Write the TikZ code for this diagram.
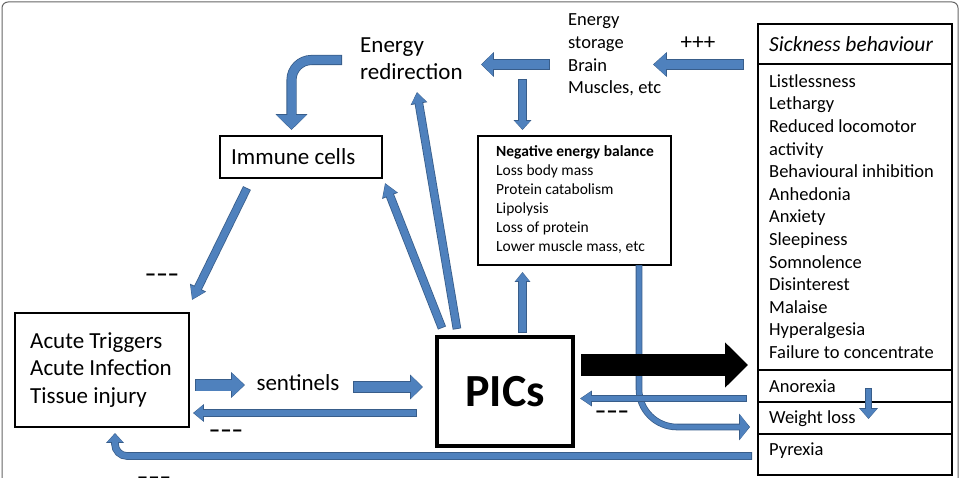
\documentclass[tikz,border=0pt]{standalone}
\usepackage{fontspec}
\setmainfont{Carlito}
\usetikzlibrary{arrows.meta,calc}
\definecolor{bfill}{HTML}{4F81BD}
\definecolor{bdark}{HTML}{385D8A}
\newcommand\ftbig{\fontsize{23}{27.5}\selectfont}
\newcommand\ftmid{\fontsize{18.5}{22.6}\selectfont}
\newcommand\ftsmall{\fontsize{15.5}{19}\selectfont}
\newcommand\fttitle{\fontsize{21.5}{25}\selectfont\itshape}
\newcommand\ftpics{\fontsize{46}{50}\selectfont\bfseries}
\tikzset{
  box/.style={draw=black, rectangle, inner sep=0pt},
  txt/.style={anchor=west, align=left, inner sep=0pt},
  sign/.style={anchor=base, inner sep=0pt, font=\ftbig\bfseries},
  barr/.code n args={3}{%
    \pgfmathsetmacro\bw{#1+1.6}%
    \pgfmathsetmacro\bW{#2+2}%
    \pgfmathsetmacro\bH{#3+1.8}%
    \edef\barrtmp{\noexpand\tikzset{preaction={draw=bdark,line width=\bw pt,shorten >=0pt,shorten <=0pt,-{Triangle[width=\bW pt,length=\bH pt]}}}}%
    \barrtmp
    \tikzset{draw=bfill,line width=#1pt,-{Triangle[width=#2pt,length=#3pt]},shorten >=0.9pt,shorten <=0.8pt}%
  }
}
\begin{document}
\begin{tikzpicture}[x=1pt,y=-1pt]
\useasboundingbox (0,0) rectangle (965,478);
\clip (0,0) rectangle (965,478);
\draw[black!60, line width=1pt, rounded corners=6pt] (2,2) rectangle (958,530);

% boxes
\node[box, line width=2pt, minimum width=162pt, minimum height=42pt] (immune) at (301,157) {};
\node[txt, font=\ftbig] (immunet) at (231,157) {Immune cells};
\node[box, line width=2pt, minimum width=174pt, minimum height=114pt] (acute) at (102,370) {};
\node[txt, font=\ftbig] (acutet) at (30,370) {Acute Triggers\\Acute Infection\\Tissue injury};
\node[box, line width=3.5pt, minimum width=136pt, minimum height=109pt, font=\ftpics] (pics) at (505,391.5) {PICs};
\node[box, line width=2.5pt, minimum width=193pt, minimum height=129pt] (neb) at (574.5,200.5) {};
\node[txt, font=\ftsmall] (nebt) at (496,199.5) {\textbf{Negative energy balance}\\Loss body mass\\Protein catabolism\\Lipolysis\\Loss of protein\\Lower muscle mass, etc};

\node[box, line width=2.5pt, minimum width=194pt, minimum height=40pt] (stitle) at (855,44) {};
\node[box, line width=2.5pt, minimum width=194pt, minimum height=306pt] (slist) at (855,217) {};
\node[box, line width=2.5pt, minimum width=194pt, minimum height=32pt] (sanor) at (855,386) {};
\node[box, line width=2.5pt, minimum width=194pt, minimum height=32pt] (sweight) at (855,418) {};
\node[box, line width=2.5pt, minimum width=194pt, minimum height=41pt] (spyr) at (855,454.5) {};
\node[txt, font=\fttitle] (stitlet) at (769,44) {Sickness behaviour};
\node[txt, font=\ftmid] (slistt) at (769,216.5) {Listlessness\\Lethargy\\Reduced locomotor\\activity\\Behavioural inhibition\\Anhedonia\\Anxiety\\Sleepiness\\Somnolence\\Disinterest\\Malaise\\Hyperalgesia\\Failure to concentrate};
\node[txt, font=\ftmid] (sanort) at (769,386) {Anorexia};
\node[txt, font=\ftmid] (sweightt) at (769,419) {Weight loss};
\node[txt, font=\ftmid] (spyrt) at (769,451) {Pyrexia};

% free texts
\node[txt, font=\ftbig] (eredir) at (360,58.5) {Energy\\redirection};
\node[txt, font=\ftmid] (estore) at (568,55) {Energy\\storage\\Brain\\Muscles, etc};
\node[inner sep=0pt, font=\ftbig] (sent) at (298,383) {sentinels};
\node[sign, font=\ftbig] (pp) at (698,50) {+++};
\node[sign] (m1) at (162,281) {–––};
\node[sign] (m2) at (226,437) {–––};
\node[sign] (m3) at (612,418) {–––};
\node[sign] (m4) at (154,484) {–––};

% connector end points
\coordinate (a1s) at (342,60);    \coordinate (a1e) at (291.5,130);
\coordinate (a2s) at (247,188);   \coordinate (a2e) at (192,300);
\coordinate (a3s) at (442,328);   \coordinate (a3e) at (385,183);
\coordinate (a4s) at (457,329);   \coordinate (a4e) at (417,92);
\coordinate (a5s) at (550,64.5);  \coordinate (a5e) at (481,64.5);
\coordinate (a6s) at (744,64.5);  \coordinate (a6e) at (653,64.5);
\coordinate (a7s) at (522.5,79);  \coordinate (a7e) at (522.5,130);
\coordinate (a8s) at (522.5,333); \coordinate (a8e) at (522.5,272);
\coordinate (bks) at (581,365);   \coordinate (bke) at (748,365);
\coordinate (a10s) at (747,398.5);\coordinate (a10e) at (580,398.5);
\coordinate (a11s) at (639,265);  \coordinate (a11e) at (750,427);
\coordinate (a12s) at (195,385);  \coordinate (a12e) at (245,385);
\coordinate (a13s) at (353,387);  \coordinate (a13e) at (423,387);
\coordinate (a14s) at (417,413);  \coordinate (a14e) at (193,413);
\coordinate (a15s) at (752,456);  \coordinate (a15e) at (115,433);
\coordinate (a16s) at (868.5,388);\coordinate (a16e) at (868.5,419);

% connectors
\draw[barr={8.5}{29}{14}, rounded corners=20pt] (a1s) -| (a1e);
\draw[barr={7}{15}{12}] (a2s) -- (a2e);
\draw[barr={7}{14}{12}] (a3s) -- (a3e);
\draw[barr={7}{14}{10}] (a4s) -- (a4e);
\draw[barr={9}{22}{11}] (a5s) -- (a5e);
\draw[barr={9}{22}{12}] (a6s) -- (a6e);
\draw[barr={7}{15}{8}] (a7s) -- (a7e);
\draw[barr={7}{13}{8}] (a8s) -- (a8e);
\draw[barr={5}{24}{9}, rounded corners=38pt] (a11s) |- (a11e);
\draw[black, line width=22pt, -{Triangle[width=44pt,length=23pt]}] (bks) -- (bke);
\draw[barr={5.5}{13}{10}] (a10s) -- (a10e);
\draw[barr={11}{23}{12}] (a12s) -- (a12e);
\draw[barr={10}{22}{11}] (a13s) -- (a13e);
\draw[barr={6}{15}{9}] (a14s) -- (a14e);
\draw[barr={6}{15}{8}, rounded corners=12pt] (a15s) -| (a15e);
\draw[barr={5}{16}{9}] (a16s) -- (a16e);
\end{tikzpicture}
\end{document}
